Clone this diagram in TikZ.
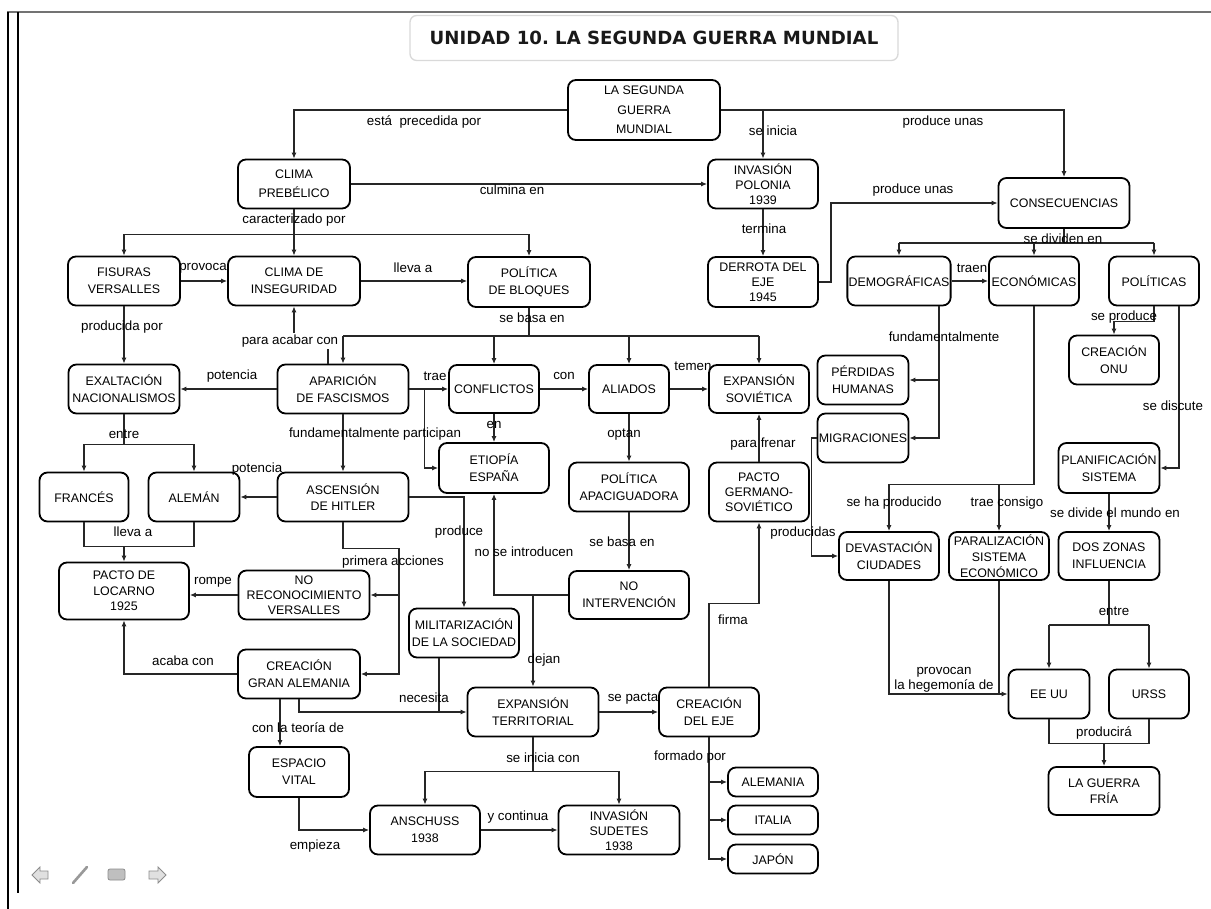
\documentclass[tikz,border=0pt]{standalone}
\usepackage{fontspec}
\setmainfont{Liberation Sans}
\newfontfamily\titlefont{DejaVu Sans}
\usetikzlibrary{arrows.meta,calc}
\newcommand{\boxfont}{\fontsize{9.3}{12.5}\selectfont}
\newcommand{\lblfont}{\fontsize{10}{12}\selectfont}
\newcommand{\tlfont}{\fontsize{9.3}{11.3}\selectfont}
\frenchspacing
\begin{document}
\begin{tikzpicture}[x=0.75pt,y=-0.75pt]
\tikzset{
  cbox/.style={draw=black, line width=1.35pt, rounded corners=6pt, align=center, inner sep=1pt, font=\boxfont, fill=white, text=black},
  lbl/.style={font=\lblfont, inner sep=0pt, text=black},
  sz/.style 2 args={minimum width=#1*0.75pt, minimum height=#2*0.75pt},
  ln/.style={line width=0.95pt, draw=black!85},
  arr/.style={ln, -{Latex[length=4.5pt,width=3.8pt]}},
}
\useasboundingbox (0,0) rectangle (1211,909);
\fill[white] (0,0) rectangle (1211,909);
% frame
\draw[line width=1.2pt, black!55] (7,12) -- (1211,12);
\draw[line width=2pt, black] (8,12) -- (8,909);
\draw[line width=0.8pt, black] (18,12) -- (18,893);
% title
\node[draw=black!15, line width=1pt, rounded corners=5pt, sz={488}{45}] (titlebox) at (654,38) {};
\node[font=\titlefont\bfseries\fontsize{13.6}{16}\selectfont, text=black!90, inner sep=0pt] (title) at (654,38) {UNIDAD 10. LA SEGUNDA GUERRA MUNDIAL};

% nodes
\node[cbox,sz={152}{60},font=\fontsize{9.3}{14.6}\selectfont] (lsg) at (644,110) {LA SEGUNDA\\GUERRA\\MUNDIAL};
\node[cbox,sz={112}{49},font=\fontsize{9.3}{14.2}\selectfont] (clima) at (294,184) {CLIMA\\PREBÉLICO};
\node[cbox,sz={110}{49},font=\tlfont] (inv) at (763,184) {INVASIÓN\\POLONIA\\1939};
\node[cbox,sz={110}{50},font=\tlfont] (derr) at (763,282) {DERROTA DEL\\EJE\\1945};
\node[cbox,sz={131}{50}] (cons) at (1064,203) {CONSECUENCIAS};
\node[cbox,sz={100}{49}] (demo) at (899,281) {DEMOGRÁFICAS};
\node[cbox,sz={90}{49}] (econ) at (1034,281) {ECONÓMICAS};
\node[cbox,sz={90}{49}] (pol) at (1154,281) {POLÍTICAS};
\node[cbox,sz={112}{49}] (fis) at (124,281) {FISURAS\\VERSALLES};
\node[cbox,sz={132}{49}] (insg) at (294,281) {CLIMA DE\\INSEGURIDAD};
\node[cbox,sz={122}{50}] (bloq) at (529,282) {POLÍTICA\\DE BLOQUES};
\node[cbox,sz={131}{49}] (apar) at (343,389) {APARICIÓN\\DE FASCISMOS};
\node[cbox,sz={90}{48}] (conf) at (494,389) {CONFLICTOS};
\node[cbox,sz={80}{48}] (ali) at (629,389) {ALIADOS};
\node[cbox,sz={100}{48}] (exps) at (759,389) {EXPANSIÓN\\SOVIÉTICA};
\node[cbox,sz={110}{50}] (etio) at (494,468) {ETIOPÍA\\ESPAÑA};
\node[cbox,sz={120}{49}] (apac) at (629,487) {POLÍTICA\\APACIGUADORA};
\node[cbox,sz={120}{48}] (noint) at (629,595) {NO\\INTERVENCIÓN};
\node[cbox,sz={100}{59},font=\tlfont] (pacto) at (759,492) {PACTO\\GERMANO-\\SOVIÉTICO};
\node[cbox,sz={100}{49}] (eje) at (709,712) {CREACIÓN\\DEL EJE};
\node[cbox,sz={131}{49}] (expt) at (533,712) {EXPANSIÓN\\TERRITORIAL};
\node[cbox,sz={110}{49}] (ansch) at (425,830) {ANSCHUSS\\1938};
\node[cbox,sz={121}{49},font=\tlfont] (sud) at (619,830) {INVASIÓN\\SUDETES\\1938};
\node[cbox,sz={90}{29}] (alem) at (773,782) {ALEMANIA};
\node[cbox,sz={90}{29}] (ital) at (773,820) {ITALIA};
\node[cbox,sz={90}{29}] (jap) at (773,859) {JAPÓN};
\node[cbox,sz={111}{49}] (exal) at (124,389) {EXALTACIÓN\\NACIONALISMOS};
\node[cbox,sz={89}{49}] (fra) at (84,497) {FRANCÉS};
\node[cbox,sz={91}{49}] (alm) at (194,497) {ALEMÁN};
\node[cbox,sz={130}{57},font=\fontsize{9.3}{11.6}\selectfont] (loc) at (124,591) {PACTO DE\\LOCARNO\\1925};
\node[cbox,sz={131}{49}] (asc) at (343,497) {ASCENSIÓN\\DE HITLER};
\node[cbox,sz={110}{49}] (mil) at (464,633) {MILITARIZACIÓN\\DE LA SOCIEDAD};
\node[cbox,sz={131}{49},font=\tlfont] (noreco) at (304,595) {NO\\RECONOCIMIENTO\\VERSALLES};
\node[cbox,sz={122}{49}] (cga) at (299,674) {CREACIÓN\\GRAN ALEMANIA};
\node[cbox,sz={100}{50}] (esp) at (299,772) {ESPACIO\\VITAL};
\node[cbox,sz={91}{49}] (perd) at (863,380) {PÉRDIDAS\\HUMANAS};
\node[cbox,sz={91}{49}] (migr) at (863,438) {MIGRACIONES};
\node[cbox,sz={100}{48}] (dev) at (889,556) {DEVASTACIÓN\\CIUDADES};
\node[cbox,sz={100}{48},font=\fontsize{9.3}{12}\selectfont] (par) at (999,556) {PARALIZACIÓN\\SISTEMA\\ECONÓMICO};
\node[cbox,sz={90}{49}] (onu) at (1114,360) {CREACIÓN\\ONU};
\node[cbox,sz={101}{50}] (plan) at (1109,468) {PLANIFICACIÓN\\SISTEMA};
\node[cbox,sz={101}{48}] (dos) at (1109,556) {DOS ZONAS\\INFLUENCIA};
\node[cbox,sz={81}{49}] (eeuu) at (1049,694) {EE UU};
\node[cbox,sz={80}{49}] (urss) at (1149,694) {URSS};
\node[cbox,sz={111}{48}] (fria) at (1104,791) {LA GUERRA\\FRÍA};

% connectors
\draw[arr] (lsg.west) -| (clima.north);
\draw[arr] (lsg.east) -| (cons.north);
\draw[arr] (inv.north |- lsg.east) -- (inv.north);
\draw[arr] (clima.east) -- (inv.west);
\draw[arr] (inv.south) -- (derr.north);
\draw[arr] (derr.east) -- ++(12,0) |- (cons.west);
\draw[ln] (cons.south) -- ++(0,14) coordinate (c1);
\draw[ln] (demo.north |- c1) -- (pol.north |- c1);
\draw[arr] (demo.north |- c1) -- (demo.north);
\draw[arr] (econ.north |- c1) -- (econ.north);
\draw[arr] (pol.north |- c1) -- (pol.north);
\draw[arr] (demo.east) -- (econ.west);
\draw[ln] (clima.south) -- ++(0,25) coordinate (c2);
\draw[ln] (fis.north |- c2) -- (bloq.north |- c2);
\draw[arr] (fis.north |- c2) -- (fis.north);
\draw[arr] (c2) -- (insg.north);
\draw[arr] (bloq.north |- c2) -- (bloq.north);
\draw[arr] (fis.east) -- (insg.west);
\draw[arr] (insg.east) -- (insg.east -| bloq.west);
\draw[ln] (bloq.south) -- ++(0,28) coordinate (c3);
\draw[ln] (apar.north |- c3) -- (exps.north |- c3);
\draw[arr] (apar.north |- c3) -- (apar.north);
\draw[arr] (conf.north |- c3) -- (conf.north);
\draw[arr] (ali.north |- c3) -- (ali.north);
\draw[arr] (exps.north |- c3) -- (exps.north);
\draw[arr] ($(apar.north)+(-15,0)$) -- ++(0,-23) -| (insg.south);
\draw[arr] (fis.south) -- (exal.north);
\draw[arr] (apar.west) -- (exal.east);
\draw[arr] (apar.east) -- (conf.west);
\draw[arr] ($(apar.east)+(15,0)$) |- (etio.west);
\draw[arr] (conf.east) -- (ali.west);
\draw[arr] (ali.east) -- (exps.west);
\draw[arr] (conf.south) -- (etio.north);
\draw[arr] (ali.south) -- (apac.north);
\draw[arr] (apac.south) -- (noint.north);
\draw[arr] (noint.west) -| (etio.south);
\draw[arr] (noint.west -| expt.north) -- (expt.north);
\draw[arr] (pacto.north) -- (exps.south);
\draw[arr] (eje.north) -- ++(0,-83) -| (pacto.south);
\draw[arr] (expt.east) -- (eje.west);
\draw[ln] (expt.south) -- ++(0,34) coordinate (c4);
\draw[ln] (ansch.north |- c4) -- (sud.north |- c4);
\draw[arr] (ansch.north |- c4) -- (ansch.north);
\draw[arr] (sud.north |- c4) -- (sud.north);
\draw[arr] (ansch.east) -- (sud.west);
\draw[arr] (eje.south) |- (jap.west);
\draw[arr] (eje.south |- alem.west) -- (alem.west);
\draw[arr] (eje.south |- ital.west) -- (ital.west);
\draw[arr] (asc.west) -- (alm.east);
\draw[ln] (exal.south) -- ++(0,30) coordinate (c5);
\draw[ln] (fra.north |- c5) -- (alm.north |- c5);
\draw[arr] (fra.north |- c5) -- (fra.north);
\draw[arr] (alm.north |- c5) -- (alm.north);
\draw[ln] (fra.south) -- ++(0,24) coordinate (c6) -| (alm.south);
\draw[arr] (loc.north |- c6) -- (loc.north);
\draw[arr] (apar.south) -- (asc.north);
\draw[arr] (asc.east) -| (mil.north);
\coordinate (c7) at ($(cga.east)+(38,0)$);
\draw[arr] (asc.south) -- ++(0,26) -| (c7) -- (cga.east);
\draw[arr] (noreco.east -| c7) -- (noreco.east);
\draw[arr] (noreco.west) -- (noreco.west -| loc.east);
\draw[arr] (cga.west) -| (loc.south);
\draw[arr] (cga.south) |- (expt.west);
\coordinate (m1) at ($(mil.south)+(-25,0)$);
\draw[ln] (m1) -- (m1 |- expt.west);
\coordinate (g1) at ($(cga.south)+(-19,0)$);
\draw[arr] (g1) -- (g1 |- esp.north);
\draw[arr] (esp.south) |- (ansch.west);
\coordinate (d1) at ($(demo.south)+(40,0)$);
\draw[arr] (d1) |- (migr.east);
\draw[arr] (perd.east -| d1) -- (perd.east);
\draw[arr] (migr.west) -- ++(-5,0) |- (dev.west);
\draw[ln] (econ.south) -- ++(0,178) coordinate (e1) -- (e1 -| dev.north);
\draw[arr] (e1 -| dev.north) -- (dev.north);
\draw[arr] (e1 -| par.north) -- (par.north);
\draw[arr] (pol.south) -- ++(0,15) -| (onu.north);
\draw[arr] ($(pol.south)+(25,0)$) |- (plan.east);
\draw[arr] (plan.south) -- (dos.north);
\draw[ln] (dos.south) -- ++(0,44) coordinate (c8);
\draw[ln] (eeuu.north |- c8) -- (urss.north |- c8);
\draw[arr] (eeuu.north |- c8) -- (eeuu.north);
\draw[arr] (urss.north |- c8) -- (urss.north);
\draw[arr] (dev.south) |- (eeuu.west);
\draw[ln] (par.south) -- (par.south |- eeuu.west);
\draw[ln] (eeuu.south) -- ++(0,24) coordinate (c9) -| (urss.south);
\draw[arr] (fria.north |- c9) -- (fria.north);

% labels
\node[lbl] (t01) at (424,122) {está~ precedida por};
\node[lbl] (t02) at (773,131) {se inicia};
\node[lbl] (t03) at (943,122) {produce unas};
\node[lbl] (t04) at (512,190) {culmina en};
\node[lbl] (t05) at (764,229) {termina};
\node[lbl] (t06) at (913,190) {produce unas};
\node[lbl] (t07) at (1063,239) {se dividen en};
\node[lbl] (t08) at (972,268) {traen};
\node[lbl] (t09) at (294,220) {caracterizado por};
\node[lbl] (t10) at (203,268) {provoca};
\node[lbl] (t11) at (413,268) {lleva a};
\node[lbl] (t12) at (532,318) {se basa en};
\node[lbl,fill=white,inner ysep=1pt] (t13) at (290,341) {para acabar con};
\node[lbl] (t14) at (122,327) {producida por};
\node[lbl] (t15) at (232,376) {potencia};
\node[lbl] (t16) at (435,376) {trae};
\node[lbl] (t17) at (564,376) {con};
\node[lbl] (t18) at (693,366) {temen};
\node[lbl] (t19) at (494,425) {en};
\node[lbl] (t20) at (624,435) {optan};
\node[lbl] (t21) at (763,444) {para frenar};
\node[lbl] (t22) at (622,542) {se basa en};
\node[lbl] (t23) at (524,552) {no se introducen};
\node[lbl] (t24) at (459,532) {produce};
\node[lbl] (t25) at (375,434) {fundamentalmente participan};
\node[lbl] (t26) at (124,434) {entre};
\node[lbl] (t27) at (257,469) {potencia};
\node[lbl] (t28) at (133,532) {lleva a};
\node[lbl] (t29) at (393,562) {primera acciones};
\node[lbl] (t30) at (213,582) {rompe};
\node[lbl] (t31) at (183,661) {acaba con};
\node[lbl] (t32) at (424,698) {necesita};
\node[lbl] (t33) at (544,660) {dejan};
\node[lbl] (t34) at (733,620) {firma};
\node[lbl] (t35) at (633,699) {se pacta};
\node[lbl] (t36) at (298,728) {con la teoría de};
\node[lbl] (t37) at (543,758) {se inicia con};
\node[lbl] (t38) at (690,757) {formado por};
\node[lbl] (t39) at (518,817) {y continua};
\node[lbl] (t40) at (315,846) {empieza};
\node[lbl] (t41) at (944,337) {fundamentalmente};
\node[lbl] (t42) at (803,533) {producidas};
\node[lbl] (t43) at (894,503) {se ha producido};
\node[lbl] (t44) at (1007,503) {trae consigo};
\node[lbl] (t45) at (1124,317) {se produce};
\node[lbl] (t46) at (1173,406) {se discute};
\node[lbl] (t47) at (1115,513) {se divide el mundo en};
\node[lbl] (t48) at (1114,611) {entre};
\node[lbl,align=center,font=\fontsize{10}{11.5}\selectfont] (t49) at (944,680) {provocan\\la hegemonía de};
\node[lbl] (t50) at (1104,733) {producirá};

% navigation icons
\draw[black!45, fill=black!12, line width=0.6pt] (32,875) -- (40,867) -- (40,871) -- (48,871) -- (48,879) -- (40,879) -- (40,883) -- cycle;
\draw[black!40, line width=2pt, line cap=round] (73,883) -- (87,867);
\draw[black!45, fill=black!25, line width=0.6pt, rounded corners=1.5pt] (108,869) rectangle (125,880);
\draw[black!45, fill=black!12, line width=0.6pt] (166,875) -- (158,867) -- (158,871) -- (149,871) -- (149,879) -- (158,879) -- (158,883) -- cycle;
\end{tikzpicture}
\end{document}
